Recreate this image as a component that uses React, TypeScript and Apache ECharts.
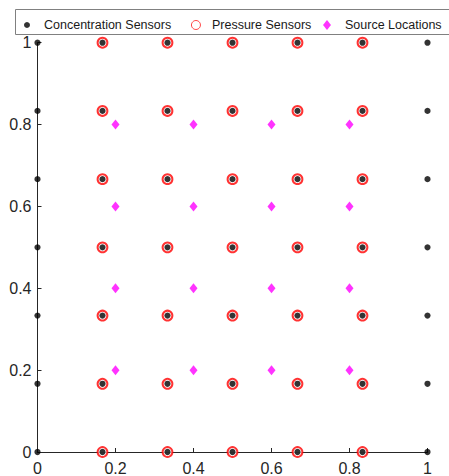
import React, { useEffect, useRef } from "react";
import * as echarts from "echarts";

// Sensor grid positions (sixths of the unit square)
const concX = [0, 1 / 6, 2 / 6, 3 / 6, 4 / 6, 5 / 6, 1];
const concY = [0, 1 / 6, 2 / 6, 3 / 6, 4 / 6, 5 / 6, 1];
const pressureX = [1 / 6, 2 / 6, 3 / 6, 4 / 6, 5 / 6];
const pressureY = [0, 1 / 6, 2 / 6, 3 / 6, 4 / 6, 5 / 6, 1];
const sourceX = [0.2, 0.4, 0.6, 0.8];
const sourceY = [0.2, 0.4, 0.6, 0.8];
const seriesNames = ["Concentration Sensors", "Pressure Sensors", "Source Locations"];
const axisTicks = [0, 0.2, 0.4, 0.6, 0.8, 1];

const cross = (xs: number[], ys: number[]) => {
  const out: number[][] = [];
  xs.forEach((x) => ys.forEach((y) => out.push([x, y])));
  return out;
};

const FONT = "Liberation Sans, Arial, Helvetica, sans-serif";
const TXT = "#262626";

export default function App() {
  const ref = useRef<HTMLDivElement>(null);
  useEffect(() => {
    if (!ref.current) return;
    const chart = echarts.init(ref.current, null, { renderer: "svg" });
    const legendText = { fontFamily: FONT, fontSize: 12.5, color: "#1a1a1a", lineHeight: 14 };
    const axisCommon = {
      type: "value" as const,
      min: axisTicks[0],
      max: axisTicks[axisTicks.length - 1],
      interval: 0.2,
      splitLine: { show: false },
      axisLine: { show: true, lineStyle: { color: TXT, width: 1 } },
      axisTick: { show: true, inside: true, length: 4, lineStyle: { color: TXT, width: 1 } },
      axisLabel: { fontFamily: FONT, fontSize: 16, color: TXT },
    };
    chart.setOption({
      animation: false,
      backgroundColor: "#fff",
      grid: { left: 37.5, right: 21.5, top: 42.7, bottom: 23 },
      xAxis: { ...axisCommon, axisLabel: { ...axisCommon.axisLabel, margin: 8 } },
      yAxis: { ...axisCommon, axisLabel: { ...axisCommon.axisLabel, margin: 6 } },
      graphic: {
        elements: [
          {
            type: "rect",
            left: 13,
            top: 7,
            shape: { x: 0, y: 0, width: 460, height: 25 },
            style: { fill: "none", stroke: "#808080", lineWidth: 1 },
            z: 10,
          },
        ],
      },
      legend: [
        {
          data: [seriesNames[0]],
          left: 19,
          top: 13,
          itemWidth: 24,
          itemHeight: 6,
          textStyle: legendText,
          icon: "circle",
        },
        {
          data: [seriesNames[1]],
          left: 186,
          top: 13,
          itemWidth: 22,
          itemHeight: 9,
          textStyle: legendText,
          icon: "circle",
          itemStyle: { color: "#ffffff", borderWidth: 0.9, borderColor: "#ff0000" },
        },
        {
          data: [seriesNames[2]],
          left: 318,
          top: 13,
          itemWidth: 26,
          itemHeight: 10,
          textStyle: legendText,
          icon: "path://M0,-5L4,0L0,5L-4,0Z",
        },
      ],
      series: [
        {
          name: seriesNames[1],
          type: "scatter",
          symbol: "emptyCircle",
          symbolSize: 9.8,
          itemStyle: { color: "#ff0000", borderWidth: 0.7 },
          data: cross(pressureX, pressureY),
          z: 2,
        },
        {
          name: seriesNames[0],
          type: "scatter",
          symbol: "circle",
          symbolSize: 6.2,
          itemStyle: { color: "#000000" },
          data: cross(concX, concY),
          z: 3,
        },
        {
          name: seriesNames[2],
          type: "scatter",
          symbol: "diamond",
          symbolSize: [8, 10],
          itemStyle: { color: "#ff00ff" },
          data: cross(sourceX, sourceY),
          z: 3,
        },
      ],
    });
    return () => chart.dispose();
  }, []);
  return <div ref={ref} style={{ width: 449, height: 476, position: "absolute", left: 0, top: 0 }} />;
}
